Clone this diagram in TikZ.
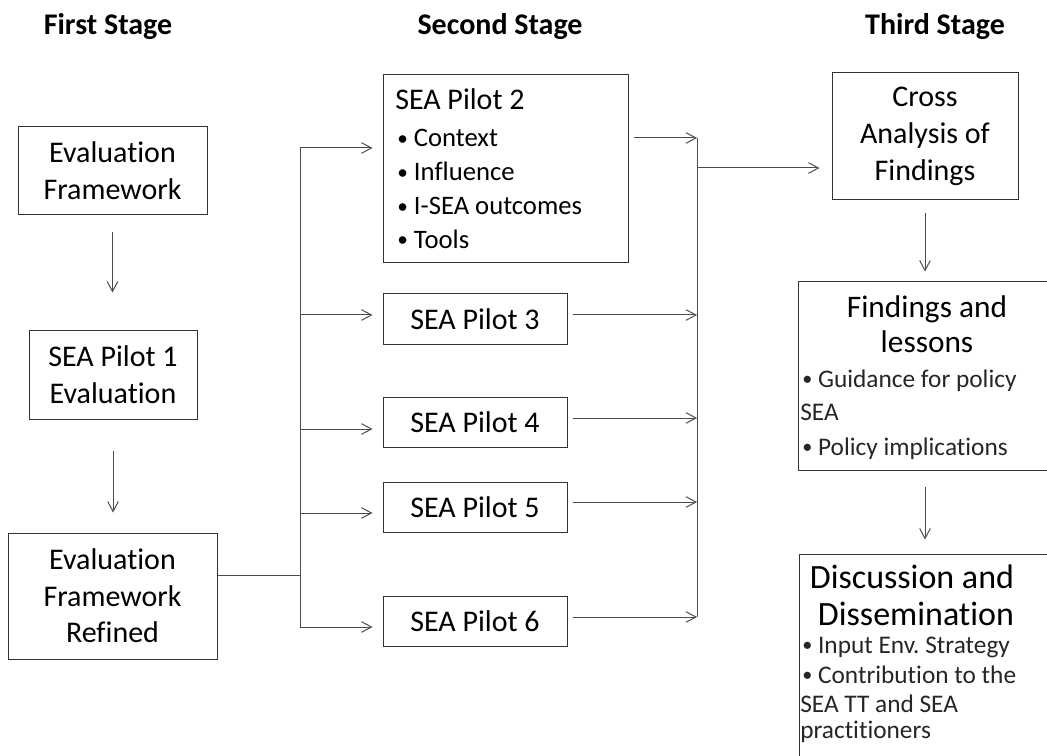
\documentclass[tikz,border=0pt]{standalone}
\usepackage{fontspec}
\usepackage{graphicx}
\setmainfont{Carlito}[Ligatures={NoCommon,NoRare,NoContextual}, RawFeature={-liga;-clig;-dlig;-calt;-rlig}]
\usetikzlibrary{arrows.meta}
\frenchspacing
\newcommand{\boxfont}{\fontsize{22.5}{27.5}\selectfont}
\newcommand{\pilotfont}{\fontsize{20}{24}\selectfont}
\newcommand{\headfont}{\fontsize{23.5}{28}\selectfont}
\newcommand{\discfont}{\fontsize{25.5}{30}\selectfont}
\newcommand{\smallfont}{\fontsize{19}{23}\selectfont}
\newcommand{\bul}{\raisebox{0.06em}{\scalebox{0.8}{•}}\ }

\begin{document}
\begin{tikzpicture}[x=0.75pt,y=-0.75pt]
	\clip (0,0) rectangle (1047,756);
	\tikzstyle{stage}=[font=\bfseries\boxfont, anchor=base, inner sep=0pt]
	\tikzstyle{blk}=[draw=black!80, line width=0.75pt, align=center, inner sep=0pt, font=\boxfont]
	\tikzstyle{txt}=[anchor=base west, inner sep=0pt]
	\tikzstyle{line}=[draw=black!70, line width=0.75pt]
	\tikzstyle{arr}=[line, -{Straight Barb[length=7.5pt,width=8pt]}]
		\path (108,35) node[stage] (s1) {First Stage};
		\path (500,35) node[stage] (s2) {Second Stage};
		\path (935,35) node[stage] (s3) {Third Stage};
		\path (112.5,171) node[blk, minimum width=141.75pt, minimum height=66pt] (ef) {Evaluation\\Framework};
		\path (113,374.5) node[blk, minimum width=126pt, minimum height=66.75pt] (p1) {SEA Pilot 1\\Evaluation};
		\path (112.5,596) node[blk, minimum width=156.75pt, minimum height=94.5pt] (efr) {Evaluation\\Framework\\Refined};
		\path (505.5,169) node[blk, minimum width=183.75pt, minimum height=141pt] (p2) {};
		\path (395,110) node[txt, font=\boxfont] (p2a) {SEA Pilot 2};
		\path (397,147) node[txt, font=\pilotfont] (p2b) {\bul Context};
		\path (397,181) node[txt, font=\pilotfont] (p2c) {\bul Influence};
		\path (397,215) node[txt, font=\pilotfont] (p2d) {\bul I-SEA outcomes};
		\path (397,248) node[txt, font=\pilotfont] (p2e) {\bul Tools};
		\path (475,319) node[blk, minimum width=138pt, minimum height=37.5pt] (p3) {SEA Pilot 3};
		\path (475,422.5) node[blk, minimum width=138pt, minimum height=38pt] (p4) {SEA Pilot 4};
		\path (475,507) node[blk, minimum width=138pt, minimum height=37.5pt] (p5) {SEA Pilot 5};
		\path (475,621.5) node[blk, minimum width=138pt, minimum height=38pt] (p6) {SEA Pilot 6};
		\path (925,136.5) node[blk, minimum width=139.5pt, minimum height=95.25pt] (cross) {Cross\\Analysis of\\Findings};
		\path (927,376) node[blk, minimum width=193.5pt, minimum height=141pt] (find) {};
		\path (927,318) node[anchor=base, inner sep=0pt, font=\headfont] (fa) {Findings and};
		\path (927,353) node[anchor=base, inner sep=0pt, font=\headfont] (fb) {lessons};
		\path (802,387) node[txt, font=\smallfont, text=black!85] (fc) {\bul Guidance for policy};
		\path (800,420) node[txt, font=\smallfont, text=black!85] (fd) {SEA};
		\path (802,455) node[txt, font=\smallfont, text=black!85] (fe) {\bul Policy implications};
		\path (929,667) node[blk, minimum width=195pt, minimum height=169.5pt] (disc) {};
		\path (912,588) node[anchor=base, inner sep=0pt, font=\discfont] (da) {Discussion and};
		\path (916,625) node[anchor=base, inner sep=0pt, font=\discfont] (db) {Dissemination};
		\path (802,653) node[txt, font=\smallfont, text=black!85] (dc) {\bul Input Env. Strategy};
		\path (802,683) node[txt, font=\smallfont, text=black!85] (dd) {\bul Contribution to the};
		\path (800,712) node[txt, font=\smallfont, text=black!85] (de) {SEA TT and SEA};
		\path (800,738) node[txt, font=\smallfont, text=black!85] (df) {practitioners};
		\path (300,575) coordinate (lj) (300,148) coordinate (l2) (300,315) coordinate (l3) (300,429) coordinate (l4) (300,513) coordinate (l5) (300,627) coordinate (l6);
		\path (697,168) coordinate (rj) (697,138) coordinate (r2) (697,315) coordinate (r3) (697,418) coordinate (r4) (697,502) coordinate (r5) (697,617) coordinate (r6);
		\draw[arr, shorten <=12.75pt, shorten >=27.75pt] (ef.south) -- (ef.south |- p1.north);
		\draw[arr, shorten <=23.25pt, shorten >=15pt] (p1.south) -- (p1.south |- efr.north);
		\draw[line] (lj -| efr.east) -- (lj);
		\draw[line] (l2) -- (l6);
		\draw[arr, shorten >=7.5pt] (l2) -- (l2 -| p2.west);
		\draw[arr, shorten >=7.5pt] (l3) -- (l3 -| p3.west);
		\draw[arr, shorten >=7.5pt] (l4) -- (l4 -| p4.west);
		\draw[arr, shorten >=7.5pt] (l5) -- (l5 -| p5.west);
		\draw[arr, shorten >=7.5pt] (l6) -- (l6 -| p6.west);
		\draw[arr, shorten <=3.75pt] (r2 -| p2.east) -- (r2);
		\draw[arr, shorten <=3.75pt] (r3 -| p3.east) -- (r3);
		\draw[arr, shorten <=3.75pt] (r4 -| p4.east) -- (r4);
		\draw[arr, shorten <=3.75pt] (r5 -| p5.east) -- (r5);
		\draw[arr, shorten <=3.75pt] (r6 -| p6.east) -- (r6);
		\draw[line] (r2) -- (r6);
		\draw[arr, shorten >=9pt] (rj) -- (rj -| cross.west);
		\draw[arr, shorten <=9.75pt, shorten >=7.5pt] (cross.south) -- (cross.south |- find.north);
		\draw[arr, shorten <=12pt, shorten >=10.5pt] (cross.south |- find.south) -- (cross.south |- disc.north);
\end{tikzpicture}
\end{document}
